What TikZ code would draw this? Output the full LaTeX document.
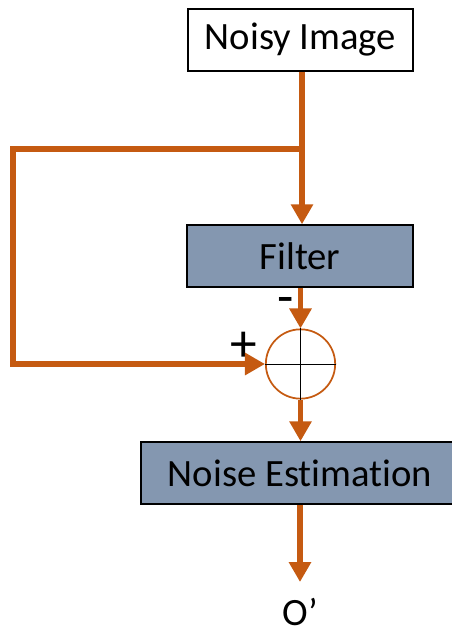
\documentclass[tikz,border=0pt]{standalone}
\usepackage{fontspec}
\setmainfont{Carlito}[RawFeature=-liga]
\usetikzlibrary{arrows.meta}
\definecolor{wire}{HTML}{C55A11}
\definecolor{boxfill}{HTML}{8497B0}

\begin{document}
\begin{tikzpicture}[x=0.75pt,y=-0.75pt,
  block/.style={draw=black, line width=1.1pt, minimum height=46.5pt, inner sep=0pt, font=\fontsize{29}{34}\selectfont},
  sign/.style={inner sep=0pt, font=\fontsize{40}{44}\selectfont},
  wire/.style={draw=wire, line width=3.8pt},
  flow/.style={wire, -{Triangle[length=15pt,width=16pt]}}]
  \useasboundingbox (0,0) rectangle (452,634);
  % boxes
  \node[block, fill=white, minimum width=168.75pt] (img) at (300.5,40) {Noisy Image};
  \node[block, fill=boxfill, minimum width=169.5pt] (filt) at (300,256) {Filter};
  \node[block, fill=boxfill, minimum width=238.5pt] (est) at (300,473) {Noise Estimation};
  \node[circle, draw=wire, line width=1.3pt, minimum size=52pt, inner sep=0pt] (sum) at (300.5,364) {};
  \draw[line width=0.6pt] (sum.north) -- (sum.south) (sum.west) -- (sum.east);
  \node[font=\fontsize{29}{34}\selectfont] (out) at (300,612) {O’};
  \node[sign, anchor=base, text height=13pt, text depth=0pt] (minus) at (286,314) {-};
  \node[sign] (plus) at (244,347) {+};
  \coordinate (split) at (302,149);
  \coordinate (outend) at (300,582);
  % connectors
  \draw[wire] (img.south -| split) -- (split);
  \draw[flow] (split) -- (filt.north -| split);
  \draw[flow] (split) -- (13,149) -- (13,364) -- (sum.west);
  \draw[flow] (filt.south -| sum) -- (sum.north);
  \draw[flow] (sum.south) -- (est.north -| sum);
  \draw[flow] (est.south) -- (outend);
\end{tikzpicture}
\end{document}
